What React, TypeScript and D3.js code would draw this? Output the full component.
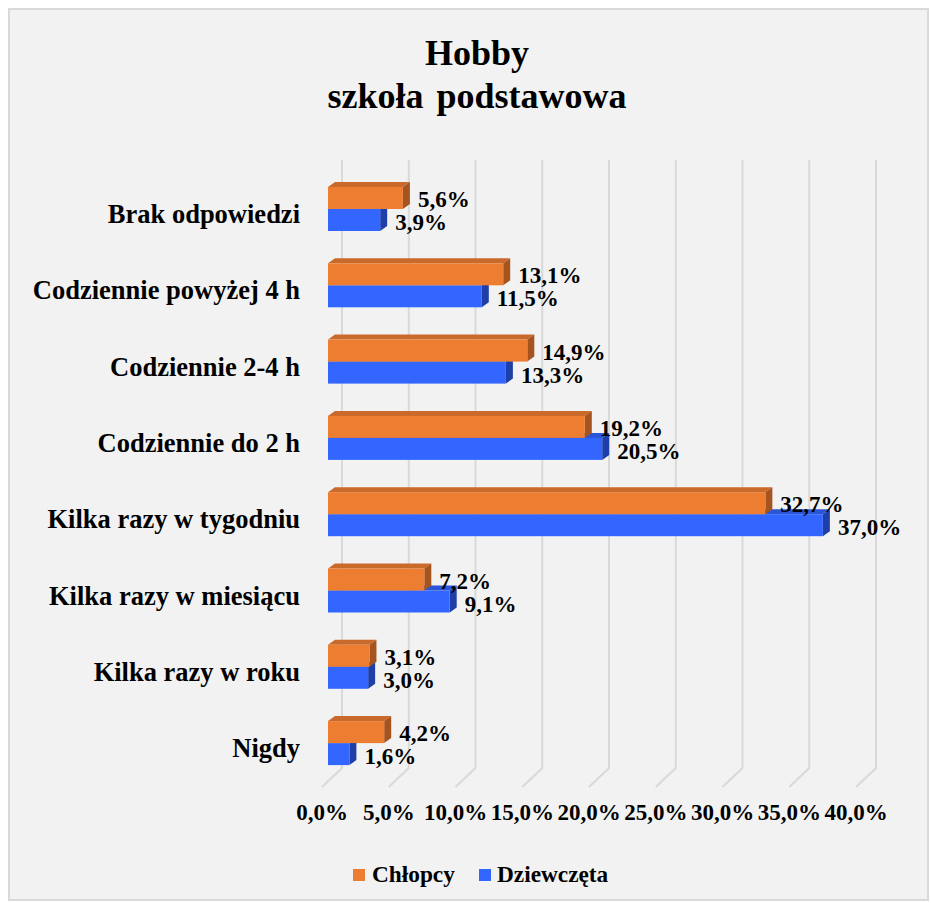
import React from "react";
import * as d3 from "d3";

const categories = [
  "Brak odpowiedzi",
  "Codziennie powyżej 4 h",
  "Codziennie 2-4 h",
  "Codziennie do 2 h",
  "Kilka razy w tygodniu",
  "Kilka razy w miesiącu",
  "Kilka razy w roku",
  "Nigdy",
];
const chlopcy = [5.6, 13.1, 14.9, 19.2, 32.7, 7.2, 3.1, 4.2];
const dziewczeta = [3.9, 11.5, 13.3, 20.5, 37.0, 9.1, 3.0, 1.6];
const ticks = [0, 5, 10, 15, 20, 25, 30, 35, 40];
const seriesNames = ["Chłopcy", "Dziewczęta"];

const W = 931;
const H = 903;
const FONT = "'Liberation Serif', 'Times New Roman', serif";

const colors = {
  orange: { front: "#ED7D31", top: "#C9692A", side: "#A5541F" },
  blue: { front: "#3366FF", top: "#2A55D6", side: "#1F3FA8" },
};

const fmt = (v: number) => d3.format(".1f")(v).replace(".", ",") + "%";

export default function App() {
  const x = d3.scaleLinear().domain([0, 40]).range([328, 863]);
  const xBack = d3.scaleLinear().domain([0, 40]).range([342, 876]);
  const xFloor = d3.scaleLinear().domain([0, 40]).range([322, 856]);
  const step = 76.3;
  const y = d3
    .scaleBand<string>()
    .domain(categories)
    .range([209 - step / 2, 209 - step / 2 + step * categories.length])
    .padding(0);
  const center = (c: string) => (y(c) as number) + y.step() / 2;
  const barH = 22;
  const dx = 7;
  const dy = -5;
  const x0 = x(0);

  const bar = (val: number, top: number, col: { front: string; top: string; side: string }, key: string) => {
    const xe = x(val);
    return (
      <g key={key}>
        <polygon
          points={`${x0},${top} ${x0 + dx},${top + dy} ${xe + dx},${top + dy} ${xe},${top}`}
          fill={col.top}
        />
        <polygon
          points={`${xe},${top} ${xe + dx},${top + dy} ${xe + dx},${top + barH + dy} ${xe},${top + barH}`}
          fill={col.side}
        />
        <rect x={x0} y={top} width={xe - x0} height={barH} fill={col.front} />
      </g>
    );
  };

  return (
    <svg
      width={W}
      height={H}
      style={{ position: "absolute", left: 0, top: 0, background: "#ffffff" }}
      fontFamily={FONT}
      fontWeight="bold"
    >
      <rect x={9} y={9} width={919} height={891} fill="#F2F2F2" stroke="#D9D9D9" strokeWidth={2} />

      <text x={477} y={65} textAnchor="middle" fontSize={36}>Hobby</text>
      <text x={477} y={108} textAnchor="middle" fontSize={36} wordSpacing={4}>szkoła podstawowa</text>

      {ticks.map((t) => (
        <path
          key={"g" + t}
          d={`M${xBack(t)},160 L${xBack(t)},768 L${xFloor(t)},787`}
          fill="none"
          stroke="#D9D9D9"
          strokeWidth={2}
        />
      ))}

      {ticks.map((t) => (
        <text key={"t" + t} x={xFloor(t)} y={820} textAnchor="middle" fontSize={23}>
          {fmt(t)}
        </text>
      ))}

      {categories.map((c, i) => {
        const cy = center(c);
        return (
          <g key={c}>
            {bar(dziewczeta[i], cy, colors.blue, "b")}
            {bar(chlopcy[i], cy - barH, colors.orange, "o")}
            <text x={300} y={cy + 14} textAnchor="end" fontSize={26.5}>{c}</text>
          </g>
        );
      })}

      {categories.map((c, i) => {
        const cy = center(c);
        return (
          <g key={"l" + c}>
            <text x={x(chlopcy[i]) + dx + 8} y={cy - barH / 2 + 9} fontSize={23}>{fmt(chlopcy[i])}</text>
            <text x={x(dziewczeta[i]) + dx + 8} y={cy + barH / 2 + 10} fontSize={23}>{fmt(dziewczeta[i])}</text>
          </g>
        );
      })}

      <rect x={353} y={869} width={12} height={12} fill={colors.orange.front} />
      <text x={372} y={882} fontSize={23.3}>{seriesNames[0]}</text>
      <rect x={479} y={869} width={12} height={12} fill={colors.blue.front} />
      <text x={497} y={882} fontSize={23.3}>{seriesNames[1]}</text>
    </svg>
  );
}
